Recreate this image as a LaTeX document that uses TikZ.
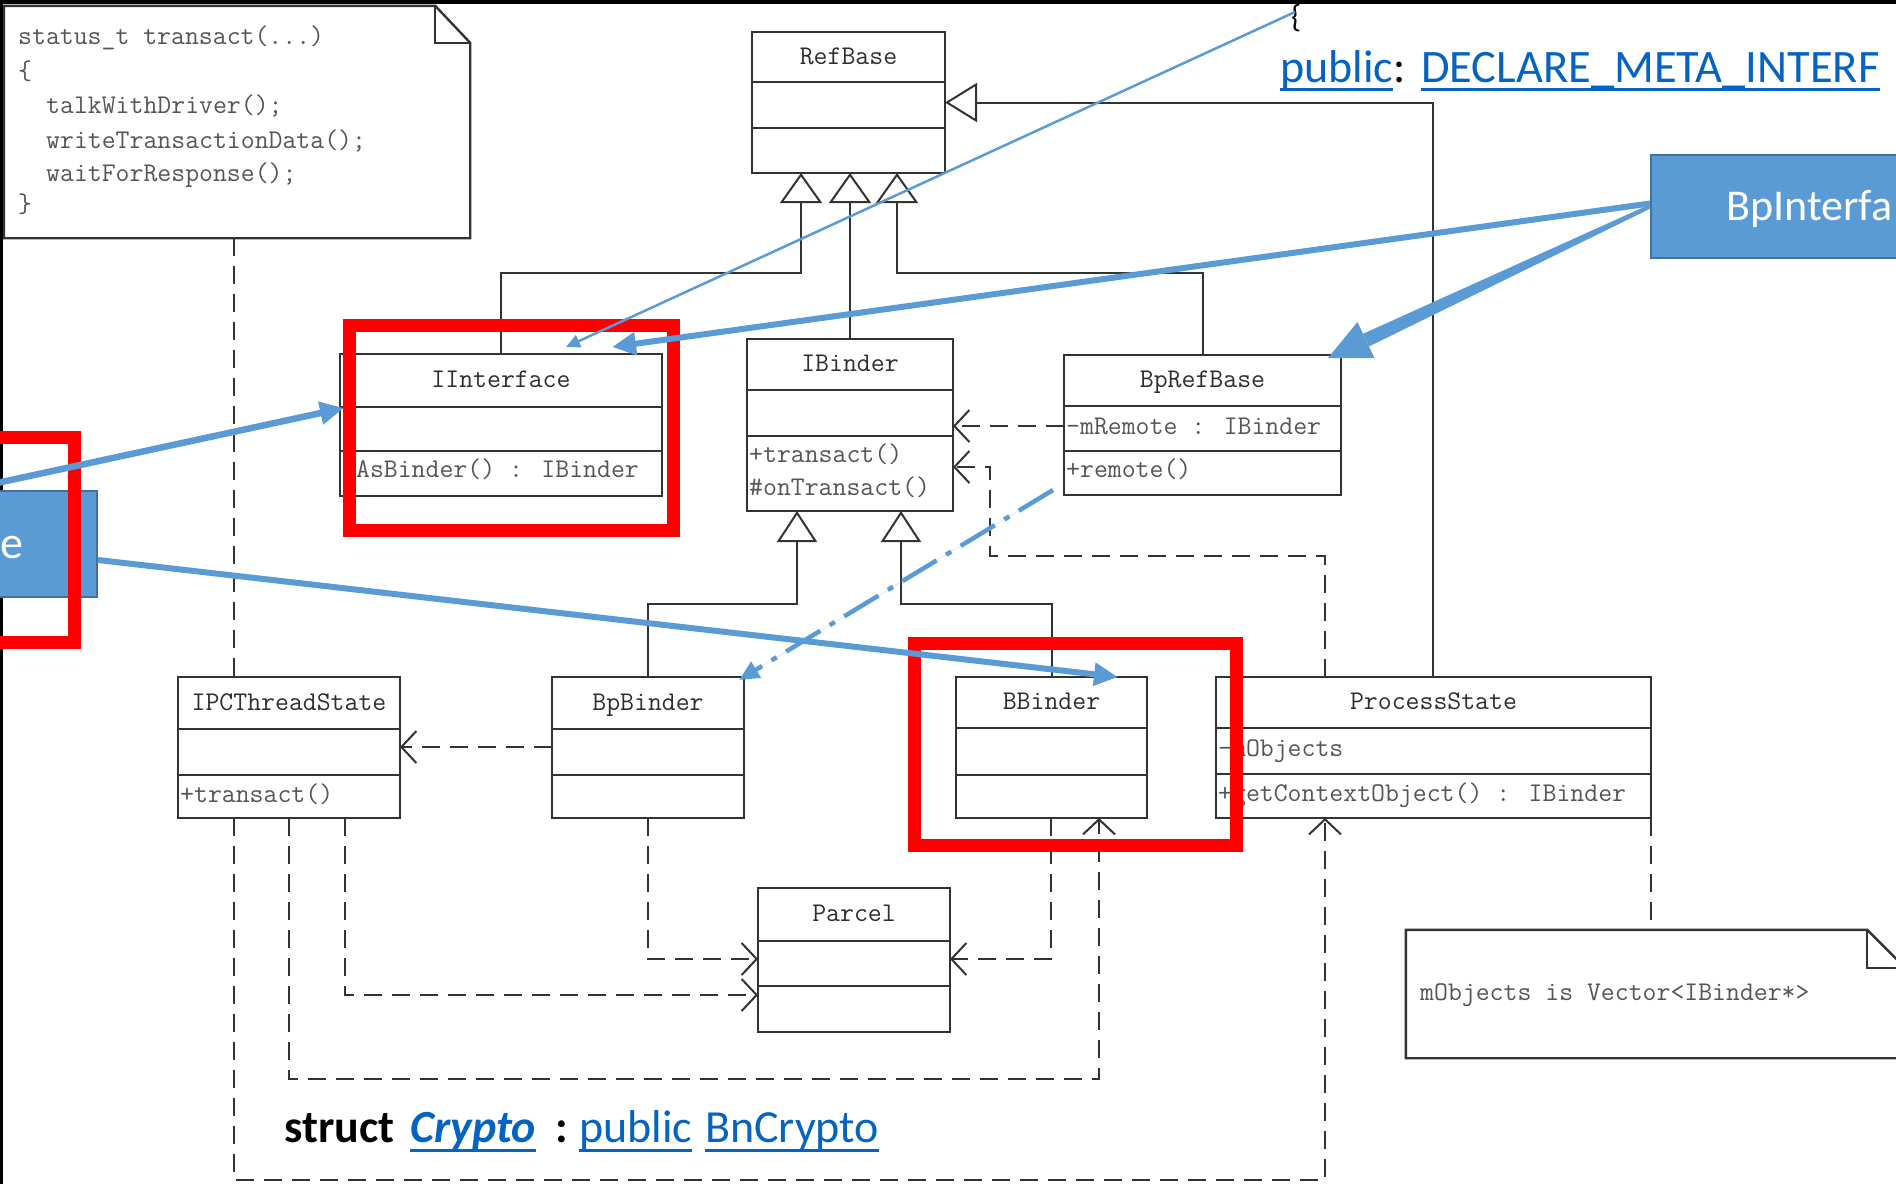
\documentclass[tikz,border=0pt]{standalone}
\usepackage{fontspec}
\newfontfamily\slidefont{Carlito}
\usetikzlibrary{arrows.meta,calc}

\definecolor{umlink}{HTML}{333333}
\definecolor{umltext}{HTML}{2E2E2E}
\definecolor{umlmember}{HTML}{555555}
\definecolor{slideblue}{HTML}{5B9BD5}
\definecolor{slideblueedge}{HTML}{41719C}
\definecolor{linkblue}{HTML}{0563C1}
\definecolor{markred}{HTML}{FF0000}

\newcommand\umlfont{\ttfamily\fontsize{27}{27}\selectfont}
\newcommand\slidesize[1]{\slidefont\fontsize{#1}{#1}\selectfont}

\tikzset{
  classbox/.style={draw=umlink, line width=2.4pt, fill=white, inner sep=0pt, outer sep=0pt},
  classline/.style={draw=umlink, line width=2.4pt},
  classname/.style={text=umltext, font=\umlfont, inner sep=0pt, text height=19pt, text depth=5pt},
  member/.style={text=umlmember, font=\umlfont, inner sep=0pt, anchor=west, text height=19pt, text depth=5pt},
  codeline/.style={text=umlmember, font=\umlfont, inner sep=0pt, anchor=west, text height=19pt, text depth=5pt},
  gen/.style={draw=umlink, line width=2pt, -{Triangle[open, fill=white, length=30pt, width=42pt]}},
  dep/.style={draw=umlink, line width=2pt, dash pattern=on 18pt off 10pt, -{Straight Barb[length=15pt, width=32pt]}},
  noteline/.style={draw=umlink, line width=2pt, dash pattern=on 18pt off 10pt},
  notebox/.style={draw=umlink, line width=2.4pt, line join=miter},
  slidebox/.style={fill=slideblue, draw=slideblueedge, line width=2pt, inner sep=0pt},
  redframe/.style={draw=markred, line width=13pt},
  bluearrow/.style={draw=slideblue, fill=slideblue},
  slidetext/.style={anchor=base west, inner sep=0pt},
  linkline/.style={draw=linkblue, line width=3pt},
}

% one UML class: name, left, top, right, first divider, second divider, bottom, title
\newcommand\umlclass[8]{%
  \node[classbox, minimum width={(#4)-(#2)}, minimum height={(#7)-(#3)}]
    (#1) at ({((#2)+(#4))/2},{((#3)+(#7))/2}) {};
  \draw[classline] (#2,#5) -- (#4,#5) (#2,#6) -- (#4,#6);
  \node[classname] (#1-name) at ({((#2)+(#4))/2},{((#3)+(#5))/2}) {#8};
}
\newcommand\underlinenode[2]{%
  \draw[linkline] ($(#1.base west)+(0,#2)$) -- ($(#1.base east)+(0,#2)$);}

\begin{document}
\begin{tikzpicture}[x=1pt,y=-1pt]
\path[use as bounding box] (0,0) rectangle (1896,1184);
\clip (0,0) rectangle (1896,1184);
\fill[white] (0,0) rectangle (1896,1184);

% ---- classes
\umlclass{RefBase}{752}{32}{945}{82}{128}{173}{RefBase}
\umlclass{IInterface}{340}{354}{662}{407}{451}{496}{IInterface}
\umlclass{IBinder}{747}{339}{953}{390}{436}{511}{IBinder}
\umlclass{BpRefBase}{1064}{355}{1341}{406}{451}{495}{BpRefBase}
\umlclass{IPCThreadState}{178}{677}{400}{729}{775}{818}{IPCThreadState}
\umlclass{BpBinder}{552}{677}{744}{729}{775}{818}{BpBinder}
\umlclass{BBinder}{956}{677}{1147}{728}{775}{818}{BBinder}
\umlclass{ProcessState}{1216}{677}{1651}{728}{774}{818}{ProcessState}
\umlclass{Parcel}{758}{888}{950}{941}{986}{1032}{Parcel}

% ---- members
\node[member] (ii-m1) at (342,470) {+AsBinder() : IBinder};
\node[member] (ib-m1) at (749,455) {+transact()};
\node[member] (ib-m2) at (749,488) {\#onTransact()};
\node[member] (bprb-a1) at (1066,427) {-mRemote : IBinder};
\node[member] (bprb-m1) at (1066,470) {+remote()};
\node[member] (ipc-m1) at (180,795) {+transact()};
\node[member] (ps-a1) at (1218,749) {-mObjects};
\node[member] (ps-m1) at (1218,794) {+getContextObject() : IBinder};

% ---- inheritance
\draw[gen] (IInterface.north) |- (801,273) -- (RefBase.south -| 801,0);
\draw[gen] (IBinder.north) -- (IBinder.north |- RefBase.south);
\draw[gen] (BpRefBase.north) |- (897,273) -- (RefBase.south -| 897,0);
\draw[gen, -{Triangle[open, fill=white, length=32pt, width=39pt]}]
  (ProcessState.north -| 1433,0) |- (RefBase.east);
\draw[gen, -{Triangle[open, fill=white, length=31pt, width=40pt]}]
  (BpBinder.north) |- (797,604) -- (IBinder.south -| 797,0);
\draw[gen, -{Triangle[open, fill=white, length=31pt, width=40pt]}]
  (BBinder.north) |- (901,604) -- (IBinder.south -| 901,0);

% ---- dependencies
\draw[dep] (BpRefBase.west |- 0,426) -- (IBinder.east |- 0,426);
\draw[dep] (ProcessState.north -| 1325,0) |- (990,556) |- (IBinder.east |- 0,467);
\draw[dep] (BpBinder.west |- 0,747) -- (IPCThreadState.east |- 0,747);
\draw[dep] (IPCThreadState.south -| 234,0) |- (1325,1180) -- (ProcessState.south -| 1325,0);
\draw[dep] (IPCThreadState.south -| 289,0) |- (1099,1079) -- (BBinder.south -| 1099,0);
\draw[dep] (IPCThreadState.south -| 345,0) |- (Parcel.west |- 0,995);
\draw[dep] (BpBinder.south) |- (Parcel.west |- 0,959);
\draw[dep] (BBinder.south -| 1051,0) |- (Parcel.east |- 0,959);

% ---- code note
\node[inner sep=0pt, minimum width=466, minimum height=232] (codenote) at (237,122) {};
\filldraw[notebox, fill=white] (codenote.north west) -- ($(codenote.north east)+(-35,0)$)
  -- ($(codenote.north east)+(0,37)$) -- (codenote.south east) -- (codenote.south west) -- cycle;
\draw[notebox] ($(codenote.north east)+(-35,0)$) -- ($(codenote.north east)+(-35,37)$)
  -- ($(codenote.north east)+(0,37)$);
\node[codeline] (code1) at (18,37) {status\_t transact(...)};
\node[codeline] (code2) at (18,72) {\{};
\node[codeline] (code3) at (46,106) {talkWithDriver();};
\node[codeline] (code4) at (46,141) {writeTransactionData();};
\node[codeline] (code5) at (46,174) {waitForResponse();};
\node[codeline] (code6) at (18,205) {\}};
\draw[noteline] (codenote.south -| 234,0) -- (IPCThreadState.north -| 234,0);

% ---- mObjects note
\node[inner sep=0pt, minimum width=499, minimum height=128] (vecnote) at (1655.5,994) {};
\filldraw[notebox, fill=white] (vecnote.north west) -- ($(vecnote.north east)+(-38,0)$)
  -- ($(vecnote.north east)+(0,38)$) -- (vecnote.south east) -- (vecnote.south west) -- cycle;
\draw[notebox] ($(vecnote.north east)+(-38,0)$) -- ($(vecnote.north east)+(-38,38)$)
  -- ($(vecnote.north east)+(0,38)$);
\node[codeline] (vectext) at (1420,993) {mObjects is Vector<IBinder*>};
\draw[noteline] (ProcessState.south east) -- (vecnote.north -| ProcessState.east);

% ---- window edges
\fill[black] (0,0) rectangle (1896,4);
\fill[black] (0,0) rectangle (3,1184);

% ---- callout boxes
\node[slidebox, minimum width=300, minimum height=103] (bpibox) at (1801,206.5) {};
\node[slidebox, minimum width=297, minimum height=106] (bnibox) at (-51.5,544) {};
\node[slidetext, font=\slidesize{44}, text=white] (bpitext) at (1726,220) {BpInterfa};
\node[slidetext, font=\slidesize{46}, text=white] (bnitext) at (0,558) {e};

% ---- highlight frames
\draw[redframe] (349,325.5) rectangle (673.5,530.5);
\draw[redframe] (914.5,643) rectangle (1236.5,845);
\draw[redframe] (-30,437.5) rectangle (74.5,642.5);

% ---- pointers
\node[slidetext, font=\slidesize{32}] (brace) at (1291,27) {\{};
\coordinate (braceTip) at (1295,12);
\draw[bluearrow, line width=2.5pt, -{Triangle[length=14pt,width=13pt]}]
  (braceTip) -- ($(IInterface.north)+(65,-7)$);
\draw[bluearrow, line width=6pt, -{Triangle[length=24pt,width=22pt]}]
  ($(bpibox.west)+(0,-3)$) -- ($(IInterface.north)+(111,-7)$);
% tapered pointer into BpRefBase
\coordinate (wedgeStart) at (bpibox.west);
\coordinate (wedgeTip) at ($(BpRefBase.north east)+(-13,3)$);
\coordinate (wedgeBase) at ($(wedgeTip)!42pt!(wedgeStart)$);
\fill[slideblue] ($(wedgeStart)!2pt!90:(wedgeTip)$) -- ($(wedgeBase)!7pt!-90:(wedgeStart)$)
  -- ($(wedgeBase)!7pt!90:(wedgeStart)$) -- ($(wedgeStart)!2pt!-90:(wedgeTip)$) -- cycle;
\fill[slideblue] (wedgeTip) -- ($(wedgeBase)!20pt!90:(wedgeTip)$)
  -- ($(wedgeBase)!20pt!-90:(wedgeTip)$) -- cycle;
\coordinate (bniTop) at (-40,491);
\draw[bluearrow, line width=6.5pt, -{Triangle[length=24pt,width=22pt]}]
  (bniTop) -- ($(IInterface.west)+(4,-17)$);
\draw[bluearrow, line width=6pt, -{Triangle[length=24pt,width=22pt]}]
  (bnibox.east |- 0,560) -- ($(BBinder.north)+(66.5,0)$);
\draw[bluearrow, line width=4.5pt, dash pattern=on 40pt off 11pt on 6pt off 11pt,
  -{Triangle[length=20pt,width=18pt]}]
  ($(BpRefBase.south west)+(-11,-5)$) -- ($(BpBinder.north east)+(-5,3)$);

% ---- source excerpts
\node[slidetext, font=\slidesize{46}, text=linkblue] (pubtop) at (1280,82) {public};
\node[slidetext, font=\slidesize{46}] (colontop) at (pubtop.base east) {:};
\node[slidetext, font=\slidesize{46.5}, text=linkblue] (macrotop) at (1421,82) {DECLARE\_META\_INTERF};
\underlinenode{pubtop}{7}
\underlinenode{macrotop}{7}

\node[slidetext, font=\slidesize{46}\bfseries] (kwstruct) at (284,1142) {struct};
\node[slidetext, font=\slidesize{46}\bfseries\itshape, text=linkblue] (crypto) at (410,1142) {Crypto};
\node[slidetext, font=\slidesize{46}\bfseries] (colonb) at (555,1142) {:};
\node[slidetext, font=\slidesize{46}, text=linkblue] (pubb) at (579,1142) {public};
\node[slidetext, font=\slidesize{46}, text=linkblue] (bncrypto) at (705,1142) {BnCrypto};
\underlinenode{crypto}{8}
\underlinenode{pubb}{8}
\underlinenode{bncrypto}{8}
\end{tikzpicture}
\end{document}
